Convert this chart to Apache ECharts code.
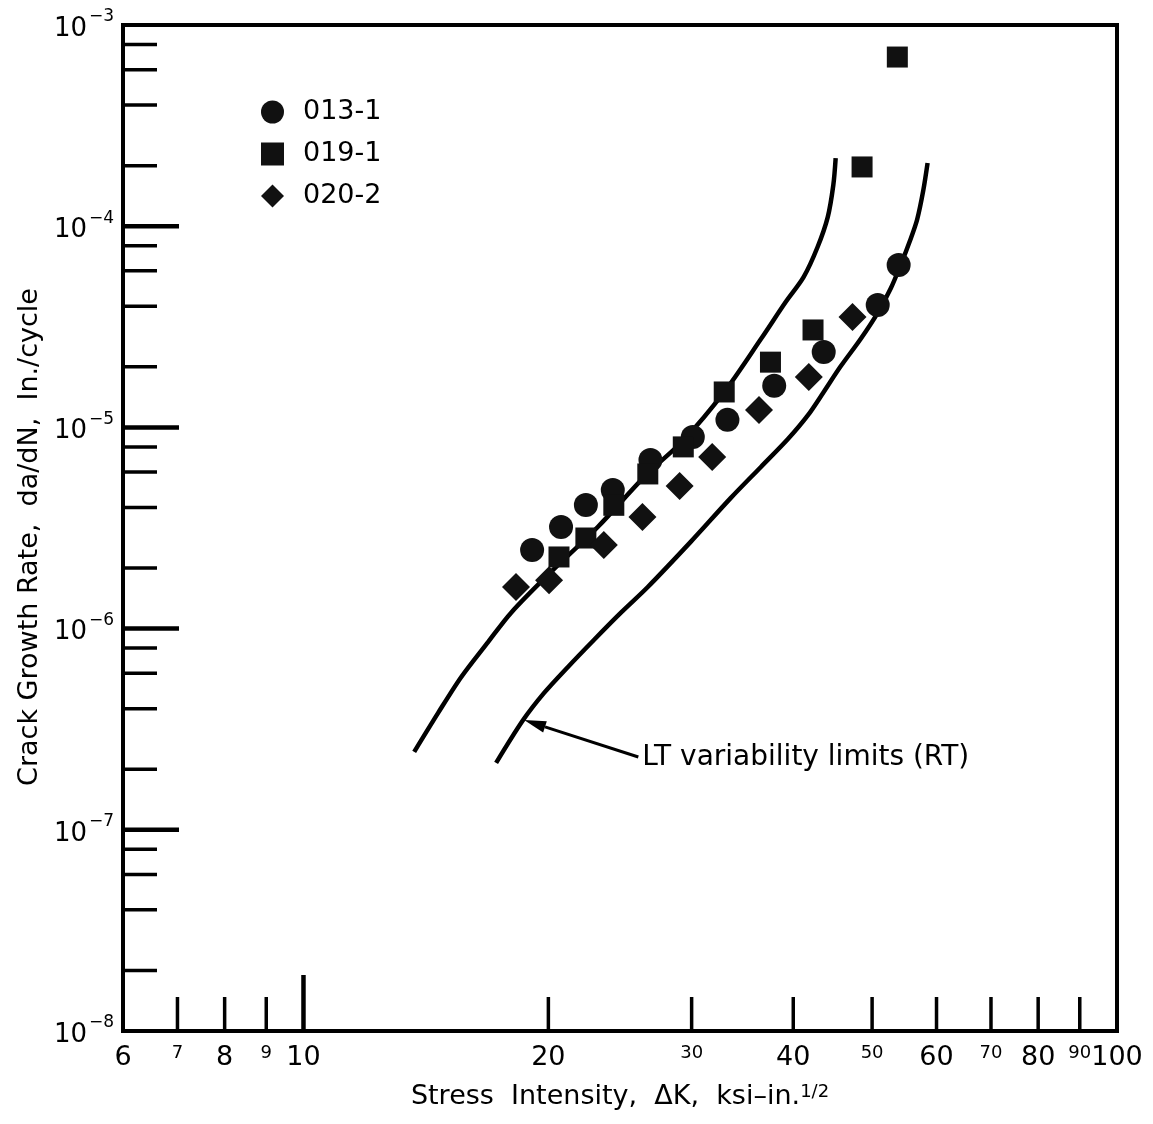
<!DOCTYPE html>
<html><head><meta charset="utf-8">
<script src="https://cdn.jsdelivr.net/npm/echarts@6/dist/echarts.min.js"></script>
<style>html,body{margin:0;padding:0;background:#fff}#c{width:1153px;height:1124px}</style>
</head><body><div id="c"></div>
<script>
// ---- axis ranges ----
const X_MIN = 6, X_MAX = 100, Y_MIN = 1e-8, Y_MAX = 1e-3;

// ---- data series [deltaK, da/dN] ----
const series013 = [[19.1,2.46e-6],[20.73,3.2e-6],[22.24,4.11e-6],[24.0,4.89e-6],[26.7,6.89e-6],[30.1,8.96e-6],[33.2,1.09e-5],[37.9,1.61e-5],[43.6,2.37e-5],[50.8,4.06e-5],[53.9,6.41e-5]];
const series019 = [[20.61,2.27e-6],[22.24,2.82e-6],[24.07,4.1e-6],[26.5,5.87e-6],[29.3,8.0e-6],[32.9,1.5e-5],[37.5,2.11e-5],[42.3,3.05e-5],[48.6,1.97e-4],[53.7,6.93e-4]];
const series020 = [[18.25,1.61e-6],[20.04,1.74e-6],[23.4,2.6e-6],[26.1,3.59e-6],[29.0,5.12e-6],[31.8,7.13e-6],[36.3,1.22e-5],[41.8,1.78e-5],[47.3,3.54e-5]];

// ---- LT variability limit curves ----
const limitLower = [[13.68,2.44e-7],[14.64,3.81e-7],[15.63,5.75e-7],[16.87,8.6e-7],[18.0,1.2e-6],[19.98,1.85e-6],[23.0,3.2e-6],[26.45,5.87e-6],[29.3,8.6e-6],[32.9,1.5e-5],[36.5,2.75e-5],[39.15,4.2e-5],[41.2,5.6e-5],[42.85,7.88e-5],[44.1,1.11e-4],[44.8,1.6e-4],[45.1,2.18e-4]];
const limitUpper = [[17.25,2.15e-7],[18.62,3.51e-7],[19.76,4.79e-7],[21.14,6.45e-7],[22.75,8.78e-7],[24.56,1.2e-6],[26.5,1.61e-6],[29.9,2.69e-6],[33.5,4.45e-6],[36.5,6.36e-6],[39.4,8.75e-6],[41.7,1.15e-5],[43.6,1.5e-5],[45.7,2.0e-5],[48.4,2.75e-5],[50.8,3.71e-5],[52.7,4.9e-5],[54.2,6.41e-5],[55.7,8.54e-5],[56.8,1.08e-4],[57.8,1.51e-4],[58.5,2.06e-4]];

// ---- ticks and tick labels ----
const xTickMajor = [10];
const xTickMinor = [7,8,9,20,30,40,50,60,70,80,90];
const xLabelsBig = [6,8,10,20,40,60,80,100];
const xLabelsSmall = [7,9,30,50,70,90];
const yTickMajor = [1e-7,1e-6,1e-5,1e-4];
const yTickMinor = [2e-8,4e-8,6e-8,8e-8,2e-7,4e-7,6e-7,8e-7,2e-6,4e-6,6e-6,8e-6,2e-5,4e-5,6e-5,8e-5,2e-4,4e-4,6e-4,8e-4];
const yLabelExponents = [-8,-7,-6,-5,-4,-3];

// ---- annotation ----
const annotationText = 'LT variability limits (RT)';
const annotationTail = [25.8, 2.3e-7];
const annotationHead = [18.67, 3.51e-7];

const FONT = 'DejaVu Sans';
const INK = '#111';

function tickSeries(points, horizontal, len, width) {
  return {
    type: 'custom', coordinateSystem: 'cartesian2d', silent: true, clip: false, z: 6,
    data: points,
    renderItem: function (params, api) {
      const p = api.coord([api.value(0), api.value(1)]);
      const shape = horizontal
        ? {x1: p[0], y1: p[1], x2: p[0] + len, y2: p[1]}
        : {x1: p[0], y1: p[1], x2: p[0], y2: p[1] - len};
      return {type: 'line', shape: shape, style: {stroke: '#000', lineWidth: width, lineCap: 'butt'}};
    }
  };
}

function xLabelSeries(values, size) {
  return {
    type: 'custom', coordinateSystem: 'cartesian2d', silent: true, clip: false, z: 6,
    data: values.map(v => [v, Y_MIN]),
    renderItem: function (params, api) {
      const v = api.value(0);
      const p = api.coord([v, api.value(1)]);
      return {type: 'text', x: p[0], y: p[1] + 13,
        style: {text: String(v), fontSize: size, fontFamily: FONT, fill: '#000', align: 'center', verticalAlign: 'top'}};
    }
  };
}

const yLabelSeries = {
  type: 'custom', coordinateSystem: 'cartesian2d', silent: true, clip: false, z: 6,
  data: yLabelExponents.map(e => [X_MIN, Math.pow(10, e)]),
  renderItem: function (params, api) {
    const val = api.value(1);
    const e = Math.round(Math.log10(val));
    const p = api.coord([api.value(0), val]);
    return {type: 'group', children: [
      {type: 'text', x: p[0] - 36, y: p[1] + 4,
        style: {text: '10', fontSize: 26, fontFamily: FONT, fill: '#000', align: 'right', verticalAlign: 'middle'}},
      {type: 'text', x: p[0] - 34, y: p[1] - 8,
        style: {text: '\u2212' + Math.abs(e), fontSize: 17, fontFamily: FONT, fill: '#000', align: 'left', verticalAlign: 'middle'}}
    ]};
  }
};

const annotationSeries = {
  type: 'custom', coordinateSystem: 'cartesian2d', silent: true, clip: false, z: 7,
  data: [[annotationTail[0], annotationTail[1], annotationHead[0], annotationHead[1]]],
  renderItem: function (params, api) {
    const a = api.coord([api.value(0), api.value(1)]);
    const b = api.coord([api.value(2), api.value(3)]);
    const dx = b[0] - a[0], dy = b[1] - a[1];
    const L = Math.sqrt(dx * dx + dy * dy);
    const ux = dx / L, uy = dy / L;
    const ah = 22, aw = 6;
    const base = [b[0] - ux * ah, b[1] - uy * ah];
    return {type: 'group', children: [
      {type: 'line', shape: {x1: a[0], y1: a[1], x2: base[0], y2: base[1]}, style: {stroke: '#000', lineWidth: 3}},
      {type: 'polygon', shape: {points: [b, [base[0] - uy * aw, base[1] + ux * aw], [base[0] + uy * aw, base[1] - ux * aw]]}, style: {fill: '#000'}},
      {type: 'text', x: a[0] + 4, y: a[1] + 1,
        style: {text: annotationText, fontSize: 28, fontFamily: FONT, fill: '#000', align: 'left', verticalAlign: 'middle'}}
    ]};
  }
};

const chart = echarts.init(document.getElementById('c'), null, {renderer: 'canvas'});
chart.setOption({
  animation: false,
  backgroundColor: '#fff',
  grid: {left: 123, top: 25, width: 994, height: 1006, show: true, borderColor: '#000', borderWidth: 4, containLabel: false},
  legend: {
    data: ['013-1', '019-1', '020-2'],
    orient: 'vertical', left: 256, top: 92,
    itemWidth: 23, itemHeight: 23, itemGap: 12,
    textStyle: {fontSize: 27, fontFamily: FONT, color: '#000', padding: [0, 0, 0, 14], lineHeight: 30}
  },
  xAxis: {
    type: 'log', logBase: 10, min: X_MIN, max: X_MAX,
    axisLine: {show: false}, axisTick: {show: false}, axisLabel: {show: false}, splitLine: {show: false},
    name: 'Stress  Intensity,  \u0394K,  ksi\u2013in.{s|1/2}',
    nameLocation: 'middle', nameGap: 52,
    nameTextStyle: {fontSize: 27, fontFamily: FONT, color: '#000',
      rich: {s: {fontSize: 18, fontFamily: FONT, color: '#000', verticalAlign: 'top', lineHeight: 14}}}
  },
  yAxis: {
    type: 'log', logBase: 10, min: Y_MIN, max: Y_MAX,
    axisLine: {show: false}, axisTick: {show: false}, axisLabel: {show: false}, splitLine: {show: false},
    name: 'Crack Growth Rate,  da/dN,  In./cycle',
    nameLocation: 'middle', nameGap: 80, nameRotate: 90,
    nameTextStyle: {fontSize: 27, fontFamily: FONT, color: '#000', padding: [0, 18, 0, 0]}
  },
  series: [
    {type: 'line', data: limitLower, smooth: 0.3, showSymbol: false, silent: true, lineStyle: {color: '#000', width: 4.5}, z: 3},
    {type: 'line', data: limitUpper, smooth: 0.3, showSymbol: false, silent: true, lineStyle: {color: '#000', width: 4.5}, z: 3},
    {name: '013-1', type: 'scatter', data: series013, symbol: 'circle', symbolSize: 24, itemStyle: {color: INK, opacity: 1}, z: 4},
    {name: '019-1', type: 'scatter', data: series019, symbol: 'rect', symbolSize: 21, itemStyle: {color: INK, opacity: 1}, z: 4},
    {name: '020-2', type: 'scatter', data: series020, symbol: 'diamond', symbolSize: 28, itemStyle: {color: INK, opacity: 1}, z: 4},
    tickSeries(xTickMinor.map(v => [v, Y_MIN]), false, 34, 3.5),
    tickSeries(xTickMajor.map(v => [v, Y_MIN]), false, 56, 4.5),
    tickSeries(yTickMinor.map(v => [X_MIN, v]), true, 34, 3.5),
    tickSeries(yTickMajor.map(v => [X_MIN, v]), true, 56, 4.5),
    xLabelSeries(xLabelsBig, 27),
    xLabelSeries(xLabelsSmall, 18),
    yLabelSeries,
    annotationSeries
  ]
});
</script></body></html>
